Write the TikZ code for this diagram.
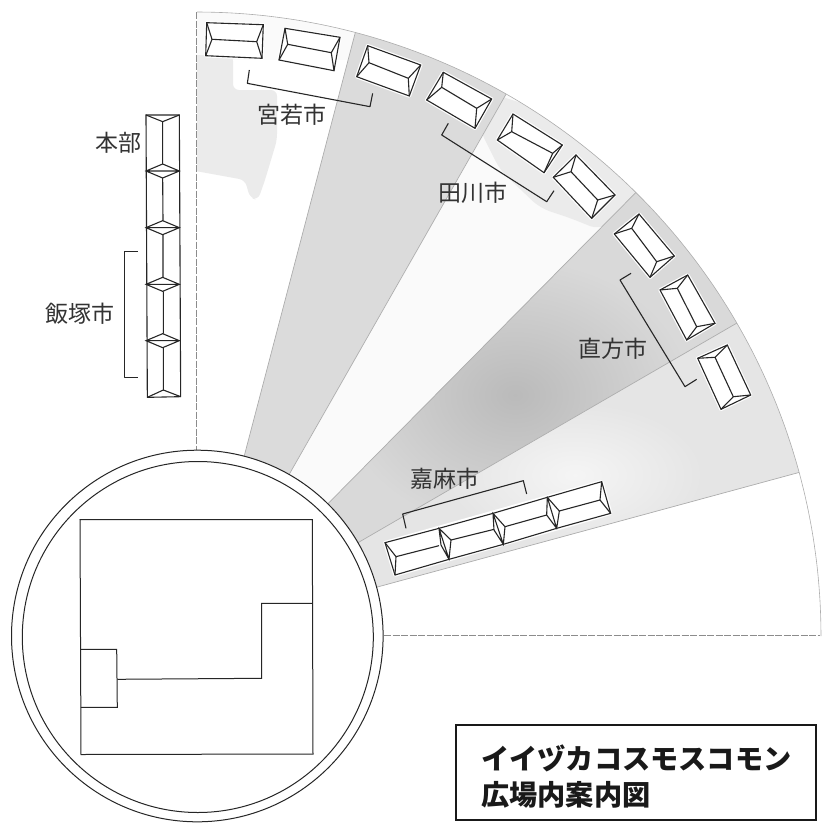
\documentclass[tikz,border=0pt]{standalone}
\usepackage{fontspec}
\newfontfamily\cjk{Noto Sans CJK JP}
\tikzset{
  bld/.style={draw=black!85,line width=1.1pt,line join=miter},
  halo/.style={draw=white,line width=3.5pt,fill=white,line join=round},
  rim/.style={draw=black!32,line width=0.6pt},
  dashrim/.style={draw=black!45,line width=0.6pt,dash pattern=on 7pt off 1.5pt},
  sep/.style={draw=black!32,line width=0.7pt},
  bracketline/.style={draw=black!85,line width=1.1pt,line join=round},
  plan/.style={draw=black!85,line width=1pt},
  lab/.style={font=\cjk\fontsize{23}{24}\selectfont,text=black!80,inner sep=0pt},
  titletext/.style={font=\cjk\bfseries\fontsize{28.2}{30}\selectfont,text=black!90,inner sep=0pt,anchor=west}
}
\newcommand{\wedgepath}[2]{(197,636) -- plot[domain=#1:#2,samples=40] ({197+624*cos(\x)},{636-624*sin(\x)}) -- cycle}
\newcommand{\bldg}[6]{%
  \draw[halo] #1 -- #2 -- #3 -- #4 -- cycle;
  \draw[bld] #1 -- #2 -- #3 -- #4 -- cycle;
  \draw[bld] #1 -- #5 -- #4 #5 -- #6 #2 -- #6 -- #3;
}
\begin{document}
\begin{tikzpicture}[x=1pt,y=-1pt]
\useasboundingbox (0,0) rectangle (830,822);
% wedge 1: patch
\begin{scope}
  \clip \wedgepath{90}{75.3};
  \fill[black!2] (190,5) rectangle (370,60);
  \fill[black!8,rounded corners=6pt] (190,55) -- (233,55) -- (233,90) -- (277,90) -- (277,140) -- (265,180) -- (258,200) -- (250,198) -- (245,180) -- (190,170) -- cycle;
\end{scope}
% wedge 2
\fill[black!14] \wedgepath{75.3}{60.3};
% wedge 3 patch
\begin{scope}
  \clip \wedgepath{60.3}{45.3};
  \fill[black!2] \wedgepath{60.3}{45.3};
  \fill[black!8,rounded corners=10pt] (480,90) -- (560,115) -- (650,190) -- (600,230) -- (570,218) -- (540,208) -- (500,170) -- (480,130) -- cycle;
\end{scope}
% wedge 4
\fill[black!15] \wedgepath{45.3}{30.1};
\begin{scope}
  \clip \wedgepath{45.3}{30.1};
  \shade[inner color=black!27,outer color=black!15] (515,395) ellipse[x radius=175,y radius=135];
\end{scope}
% wedge 5
\fill[black!10] \wedgepath{30.1}{15.2};
\begin{scope}
  \clip \wedgepath{30.1}{15.2};
  \shade[inner color=black!4,outer color=black!10] (575,475) ellipse[x radius=125,y radius=70];
\end{scope}
% sector outlines
\draw[rim] plot[domain=90:0,samples=120] ({197+624*cos(\x)},{636-624*sin(\x)});
\draw[dashrim] (196,12) -- (196,636);
\draw[dashrim] (197,635) -- (820,635);
\foreach \a in {75.3,60.3,45.3,30.1,15.2}
  \draw[sep] (197,636) -- ({197+624*cos(\a)},{636-624*sin(\a)});
% circle
\fill[white] (197.3,636) circle[radius=185.8];
\draw[bld,line width=1pt] (197.3,636) circle[radius=185.8];
\draw[bld,line width=1pt] (197.8,637) circle[radius=175.5];
% floor plan
\draw[plan] (80,519.5) -- (312.3,519.5) -- (313,754) -- (81,754.5) -- cycle;
\draw[plan] (312.3,603.3) -- (261.7,603.3) -- (261.7,678.3) -- (117.3,679.3);
\draw[plan] (80.5,649.3) -- (116.7,649.3) -- (117.3,707.3) -- (80.8,707.3);
% buildings on the arc
\bldg{(206.7,22.7)}{(263.3,24.7)}{(262,58.3)}{(205.7,55.7)}{(212,39.3)}{(256.7,41.7)}
\bldg{(285,28.3)}{(340,37.3)}{(334,70.7)}{(279,60)}{(287.7,44.3)}{(331.3,52.7)}
\bldg{(367.7,45.7)}{(420.7,65)}{(409.3,96)}{(356.7,76.7)}{(369,62.7)}{(408.3,78.3)}
\bldg{(443.3,72.3)}{(491.7,99)}{(475,128.3)}{(426.7,100)}{(441.7,87.3)}{(476.7,108.3)}
\bldg{(513,114)}{(562.3,145)}{(544,172.7)}{(497.3,140)}{(511.7,131.7)}{(552.7,153.3)}
\bldg{(576,155)}{(615,195)}{(591.7,218.3)}{(553.3,177.3)}{(571,171.7)}{(597.7,200)}
\bldg{(639,214)}{(674.3,256)}{(650,277.3)}{(614.3,234)}{(631.7,228.3)}{(656.7,261.7)}
\bldg{(687.7,275)}{(715,323.3)}{(686.7,340)}{(660,290)}{(677.3,288.3)}{(696.7,326.7)}
\bldg{(727.3,345)}{(750.7,395)}{(721,409.3)}{(697.7,358.3)}{(715,357.3)}{(733.3,396.7)}
% Kama row
\begin{scope}[shift={(370,450)},x=0.33333pt,y=-0.33333pt]
  \draw[halo] (45,278) -- (695,95) -- (722,190) -- (75,375) -- cycle;
  \draw[bld] (45,278) -- (207,235) -- (369,190) -- (532,142) -- (695,95) -- (722,190) -- (560,235) -- (400,283) -- (237,328) -- (75,375) -- cycle;
  \draw[bld] (45,278) -- (78,320) -- (75,375) (78,320) -- (207,287);
  \draw[bld] (207,235) -- (213,285) -- (237,328) -- (243,270) -- cycle (207,235) -- (237,328);
  \draw[bld] (243,270) -- (372,238);
  \draw[bld] (369,190) -- (372,240) -- (400,283) -- (405,230) -- cycle (369,190) -- (400,283);
  \draw[bld] (405,230) -- (530,195);
  \draw[bld] (532,142) -- (530,195) -- (560,235) -- (568,183) -- cycle (532,142) -- (560,235);
  \draw[bld] (568,183) -- (690,150);
  \draw[bld] (695,95) -- (690,150) -- (722,190);
  \draw[bracketline] (108,235) -- (98,192) -- (460,92) -- (470,132);
\end{scope}
% left column
\begin{scope}[shift={(70,100)},x=0.33333pt,y=-0.33333pt]
  \draw[bld] (228,45) -- (328,45) -- (332,890) -- (232,892) -- cycle;
  \draw[bld] (228,45) -- (278,65) -- (328,45) (278,65) -- (278,192);
  \foreach \y in {213,383,553,722}
    \draw[bld] (228,\y) -- (278,\y-21) -- (328,\y) -- (278,\y+21) -- cycle (228,\y) -- (328,\y);
  \draw[bld] (278,234) -- (279,362) (279,404) -- (279,532) (280,574) -- (280,701) (280,743) -- (280,870);
  \draw[bld] (232,892) -- (280,870) -- (332,890);
  \draw[bracketline] (203,455) -- (163,455) -- (163,832) -- (205,832);
\end{scope}
% brackets
\begin{scope}[shift={(190,0)},x=0.33333pt,y=-0.33333pt]
  \draw[bracketline] (178,210) -- (172,250) -- (540,320) -- (548,280);
\end{scope}
\draw[bracketline] (448.3,123.3) -- (441.7,135) -- (546.7,201.7) -- (554,190.7);
\begin{scope}[shift={(500,120)},x=0.33333pt,y=-0.33333pt]
  \draw[bracketline] (393,460) -- (360,480) -- (555,800) -- (590,778);
\end{scope}
% labels
\node[lab] (honbu) at (118,143) {本部};
\node[lab] (iizuka) at (80,314) {飯塚市};
\node[lab] (miyawaka) at (291.7,115) {宮若市};
\node[lab] (tagawa) at (472.7,192.7) {田川市};
\node[lab] (nogata) at (612.7,349) {直方市};
\node[lab] (kama) at (445,479) {嘉麻市};
% title
\draw[draw=black!90,line width=1.8pt] (456,725) rectangle (816,820);
\node[titletext] (t1) at (481,758) {イイヅカコスモスコモン};
\node[titletext] (t2) at (481,795) {広場内案内図};
\end{tikzpicture}
\end{document}
